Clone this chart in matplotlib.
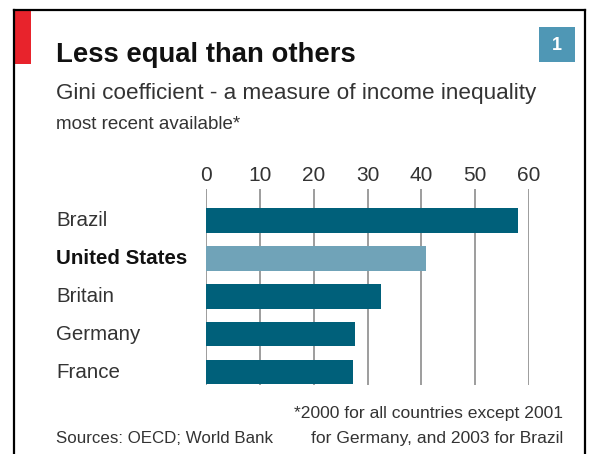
import matplotlib
matplotlib.use("Agg")
import matplotlib.pyplot as plt
from matplotlib.patches import Rectangle
from matplotlib.lines import Line2D
from matplotlib.transforms import blended_transform_factory

# Gini coefficient, most recent available
countries = ["Brazil", "United States", "Britain", "Germany", "France"]
gini = [58.0, 40.8, 32.6, 27.7, 27.3]
highlight = "United States"
ticks = [0, 10, 20, 30, 40, 50, 60]

title = "Less equal than others"
subtitle = "Gini coefficient - a measure of income inequality"
subsub = "most recent available*"
source = "Sources: OECD; World Bank"
note1 = "*2000 for all countries except 2001"
note2 = "for Germany, and 2003 for Brazil"

W, H = 589, 454
DARK = "#00607a"
LIGHT = "#70a3b8"
plt.rcParams["font.family"] = ["Liberation Sans", "DejaVu Sans"]


def fx(x):
    return x / W


def fy(y):
    return 1 - y / H


fig = plt.figure(figsize=(W / 100, H / 100), dpi=100)
fig.patch.set_facecolor("white")

# chart frame and red tag
fig.add_artist(Line2D([fx(14), fx(14)], [fy(10), 0], color="black", lw=1.6))
fig.add_artist(Line2D([fx(14), fx(585)], [fy(10), fy(10)], color="black", lw=1.6))
fig.add_artist(Line2D([fx(585), fx(585)], [fy(10), 0], color="black", lw=1.6))
fig.add_artist(Rectangle((fx(15), fy(64)), fx(16), fy(11) - fy(64),
                         transform=fig.transFigure, color="#e8232c", lw=0))

# number box
fig.add_artist(Rectangle((fx(539), fy(62)), fx(36), fy(27) - fy(62),
                         transform=fig.transFigure, color="#4f97b5", lw=0))
fig.text(fx(557), fy(45), "1", color="white", fontsize=13, fontweight="bold",
         ha="center", va="center")

# titles
fig.text(fx(56), fy(62), title, fontsize=19.8, fontweight="bold", color="#111111",
         va="baseline")
fig.text(fx(56), fy(99), subtitle, fontsize=16.2, color="#333333", va="baseline")
fig.text(fx(56), fy(129), subsub, fontsize=13.5, color="#333333", va="baseline")

# bars
ax = fig.add_axes([fx(206), fy(385), fx(529) - fx(206), fy(189) - fy(385)])
ypos = list(range(len(countries)))
colors = [LIGHT if c == highlight else DARK for c in countries]
ax.barh(ypos, gini, height=0.645, color=colors, zorder=2)
ax.set_xlim(0, 60)
ax.set_ylim(len(countries) - 1 + 0.34, -0.83)
ax.set_xticks(ticks)
ax.set_yticks([])
ax.xaxis.tick_top()
ax.tick_params(axis="x", length=0, pad=3, labelsize=15, labelcolor="#333333")
ax.grid(axis="x", color="#8c8c8c", lw=1.2, zorder=1)
for s in ax.spines.values():
    s.set_visible(False)
ax.set_facecolor("none")

trans = blended_transform_factory(fig.transFigure, ax.transData)
for y, c in zip(ypos, countries):
    bold = c == highlight
    ax.text(fx(56), y, c, transform=trans, fontsize=14.8, va="center",
            color="#111111" if bold else "#333333",
            fontweight="bold" if bold else "normal")

# footnotes
fig.text(fx(56), fy(443), source, fontsize=12.2, color="#333333", va="baseline")
fig.text(fx(563), fy(418), note1, fontsize=12.6, color="#333333", va="baseline",
         ha="right")
fig.text(fx(563), fy(443), note2, fontsize=12.6, color="#333333", va="baseline",
         ha="right")

fig.savefig("out.png", dpi=100)
